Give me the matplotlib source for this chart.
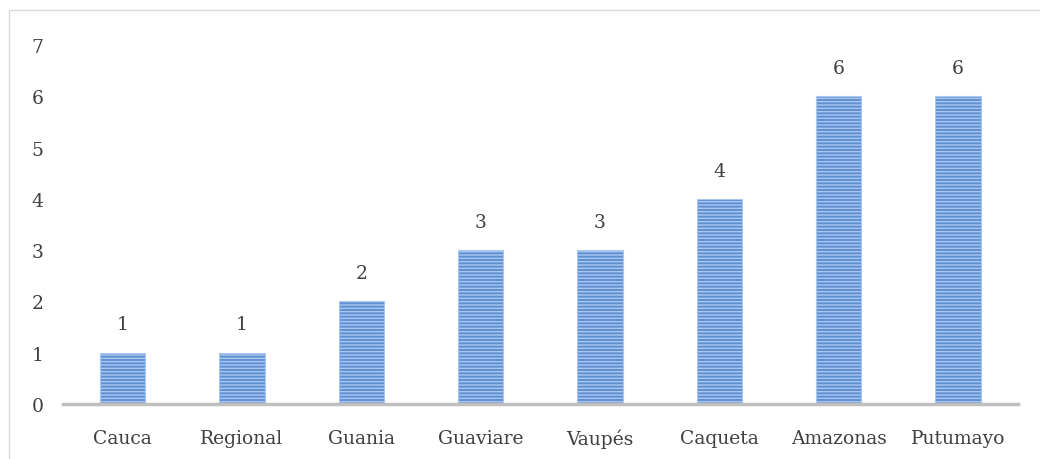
import matplotlib.pyplot as plt
from matplotlib.patches import Rectangle

plt.rcParams['font.family'] = ['DejaVu Serif']
plt.rcParams['hatch.color'] = '#a9c6ee'
plt.rcParams['hatch.linewidth'] = 1.0

categories = ['Cauca', 'Regional', 'Guania', 'Guaviare', 'Vaupés', 'Caqueta', 'Amazonas', 'Putumayo']
values = [1, 1, 2, 3, 3, 4, 6, 6]

fig = plt.figure(figsize=(10.4, 4.6), dpi=100)
ax = fig.add_axes([0.0606, 0.1196, 0.918, 0.7804])

x = range(len(categories))
ax.bar(x, values, width=0.38, color='#5f90d2', edgecolor='#a9c6ee', linewidth=0.8, hatch='-----')

for i, v in enumerate(values):
    ax.text(i, v + 0.55, str(v), ha='center', va='center', fontsize=13.5, color='#404040')

ax.set_xlim(-0.5, len(categories) - 0.5)
ax.set_ylim(0, 7)
ax.set_yticks(range(8))
ax.set_xticks(list(x))
ax.set_xticklabels(categories)
ax.tick_params(axis='both', length=0, labelsize=13.5, labelcolor='#404040')
ax.tick_params(axis='x', pad=18)
ax.tick_params(axis='y', pad=14)
for s in ['top', 'right', 'left']:
    ax.spines[s].set_visible(False)
ax.spines['bottom'].set_color('#bfbfbf')
ax.spines['bottom'].set_linewidth(2.5)

fig.patches.append(Rectangle((9 / 1040, -0.1), 1.2, 1 - 11 / 460 + 0.1, transform=fig.transFigure,
                             fill=False, edgecolor='#d9d9d9', linewidth=1))

fig.savefig('out.png', dpi=100)
